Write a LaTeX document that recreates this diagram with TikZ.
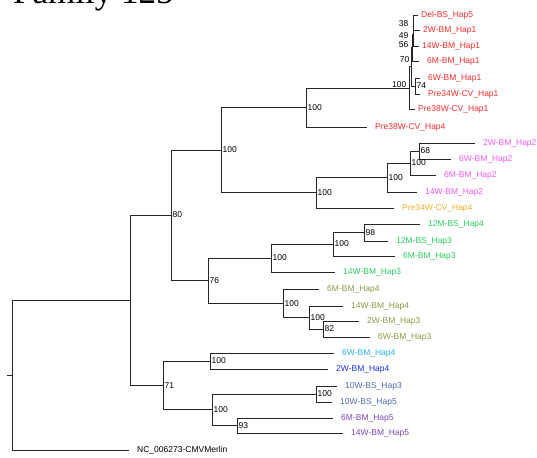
\documentclass[tikz,border=0pt]{standalone}
\usepackage{fontspec}
\setmainfont{Liberation Sans}
\newfontfamily\titlefont{Liberation Serif}
\definecolor{hapred}{RGB}{250,45,45}
\definecolor{hapmagenta}{RGB}{240,90,240}
\definecolor{haporange}{RGB}{240,176,48}
\definecolor{hapgreen}{RGB}{40,208,100}
\definecolor{hapolive}{RGB}{135,155,70}
\definecolor{hapsky}{RGB}{40,176,240}
\definecolor{hapblue}{RGB}{30,50,240}
\definecolor{hapslate}{RGB}{75,105,175}
\definecolor{hapviolet}{RGB}{128,70,190}
\begin{document}
\begin{tikzpicture}[
  x=1pt,
  y=-1pt,
  branch/.style={
    draw=black!85,
    line width=0.8pt
  },
  leaf/.style={
    anchor=west,
    inner xsep=8pt,
    inner ysep=1pt,
    font=\fontsize{8.5}{10}\selectfont
  },
  tightleaf/.style={
    leaf,
    inner xsep=3pt
  },
  support/.style={
    anchor=west,
    inner xsep=1.5pt,
    inner ysep=0pt,
    font=\fontsize{8.5}{10}\selectfont
  },
  supportl/.style={
    support,
    anchor=east
  }
]

\useasboundingbox (0,0) rectangle (537,457);
\clip (0,0) rectangle (537,457);

\node[anchor=base west, inner sep=0pt, font=\titlefont\fontsize{35}{40}\selectfont] (title) at (13,4) {Family 125};

\foreach \n/\x/\y in {root/12/375, n130/130/300.2, n80/171/215, n71/163/385.4,
    n100a/221/150, n76/208/280.6, n100r/306/107.5, n100m/316/192.75,
    n100s/409.5/88, n70/411.5/66.75, n56/412.5/47.5, n49/413/34, n38/413.5/22.5,
    n74/415/86, n100b/387/177.5, n100c/410/163, n68/419/151,
    n100g/271/258, n100h/333/244, n98/364/232.5,
    n100o/283/303.25, n100p/309/317.5, n82/323/329,
    n100x/210/361, n100y/212/409.75, n100z/316/394, n93/237/425.5} {
  \coordinate (\n) at (\x,\y);
}
\coordinate (stub) at (7,375);

\foreach \n/\x/\y/\col/\txt in {
    del/418/15/hapred/Del-BS\_Hap5,
    wbmone/420/30/hapred/2W-BM\_Hap1,
    fwbmone/419/46/hapred/14W-BM\_Hap1,
    preeightone/415/109/hapred/Pre38W-CV\_Hap1} {
  \node[tightleaf, text=\col] (\n) at (\x,\y) {\txt};
}

\foreach \n/\x/\y/\col/\txt in {
    smbmone/419/61/hapred/6M-BM\_Hap1,
    swbmone/420/78/hapred/6W-BM\_Hap1,
    prefourone/420/94/hapred/Pre34W-CV\_Hap1,
    preeightfour/367/127/hapred/Pre38W-CV\_Hap4,
    wbmtwo/475/143/hapmagenta/2W-BM\_Hap2,
    swbmtwo/451/159/hapmagenta/6W-BM\_Hap2,
    smbmtwo/436/175/hapmagenta/6M-BM\_Hap2,
    fwbmtwo/417/192/hapmagenta/14W-BM\_Hap2,
    prefourfour/394/208/haporange/Pre34W-CV\_Hap4,
    tmbsfour/420/224/hapgreen/12M-BS\_Hap4,
    tmbsthree/388/241/hapgreen/12M-BS\_Hap3,
    smbmthree/395/256/hapgreen/6M-BM\_Hap3,
    fwbmthree/335/272/hapgreen/14W-BM\_Hap3,
    smbmfour/319/289/hapolive/6M-BM\_Hap4,
    fwbmfour/343/306/hapolive/14W-BM\_Hap4,
    wbmthree/359/321/hapolive/2W-BM\_Hap3,
    swbmthree/370/337/hapolive/6W-BM\_Hap3,
    swbmfour/334/353/hapsky/6W-BM\_Hap4,
    wbmfour/328/369/hapblue/2W-BM\_Hap4,
    twbsthree/337/386/hapslate/10W-BS\_Hap3,
    twbsfive/332/402/hapslate/10W-BS\_Hap5,
    smbmfive/333/418/hapviolet/6M-BM\_Hap5,
    fwbmfive/343/433/hapviolet/14W-BM\_Hap5,
    merlin/129/450/black/NC\_006273-CMVMerlin} {
  \node[leaf, text=\col] (\n) at (\x,\y) {\txt};
}

\draw[branch] (stub) -- (root);
\foreach \p/\c in {root/n130, root/merlin, n130/n80, n130/n71,
    n80/n100a, n80/n76, n100a/n100r, n100a/n100m,
    n100r/n100s, n100r/preeightfour, n100s/n70, n100s/preeightone,
    n70/n56, n70/n74, n56/n49, n56/smbmone, n49/n38, n49/fwbmone,
    n38/del, n38/wbmone, n74/swbmone, n74/prefourone,
    n100m/n100b, n100m/prefourfour, n100b/n100c, n100b/fwbmtwo,
    n100c/n68, n100c/smbmtwo, n68/wbmtwo, n68/swbmtwo,
    n76/n100g, n76/n100o, n100g/n100h, n100g/fwbmthree,
    n100h/n98, n100h/smbmthree, n98/tmbsfour, n98/tmbsthree,
    n100o/smbmfour, n100o/n100p, n100p/fwbmfour, n100p/n82,
    n82/wbmthree, n82/swbmthree,
    n71/n100x, n71/n100y, n100x/swbmfour, n100x/wbmfour,
    n100y/n100z, n100y/n93, n100z/twbsthree, n100z/twbsfive,
    n93/smbmfive, n93/fwbmfive} {
  \draw[branch] (\p) |- (\c);
}

\foreach \n/\t in {n80/80, n71/71, n100a/100, n76/76, n100r/100, n100m/100,
    n74/74, n100b/100, n100c/100, n68/68, n100g/100, n100h/100, n98/98,
    n100o/100, n100p/100, n82/82, n100x/100, n100y/100, n100z/100, n93/93} {
  \node[support] (s\n) at (\n) {\t};
}

\node[supportl] (s38) at (410,24) {38};
\node[supportl] (s49) at (410,36) {49};
\node[supportl] (s56) at (410,45) {56};
\node[supportl] (s70) at (411,60) {70};
\node[supportl] (s100s) at (408,85) {100};

\end{tikzpicture}
\end{document}
